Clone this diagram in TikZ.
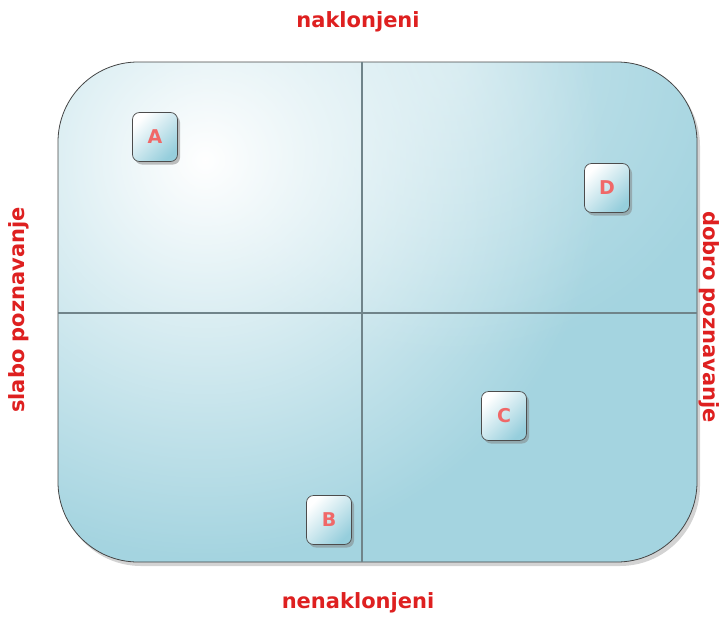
\documentclass[tikz,border=0pt]{standalone}
\usepackage{fontspec}
\setmainfont{DejaVu Sans}
\usetikzlibrary{shadows, fadings, positioning}

\definecolor{paneblue}{RGB}{164,212,224}
\definecolor{boxblue}{RGB}{150,206,220}
\definecolor{labelred}{RGB}{222,32,32}
\definecolor{letterred}{RGB}{240,104,104}
\definecolor{axisgray}{RGB}{112,132,138}

\tikzfading[name=glow, inner color=transparent!0, outer color=transparent!100]

\begin{document}
\begin{tikzpicture}[
    x=1pt, y=-1pt,
    axislabel/.style = {text=labelred, font=\bfseries\fontsize{21}{24}\selectfont},
    itembox/.style = {rectangle, rounded corners=7pt, draw=gray!60!black, line width=0.7pt,
        minimum width=45pt, minimum height=49pt, top color=white, bottom color=boxblue, shading angle=45,
        text=letterred, font=\bfseries\fontsize{19}{21}\selectfont,
        drop shadow={shadow xshift=2.5pt, shadow yshift=-3pt, opacity=0.5}},
    axisline/.style = {draw=axisgray, line width=1.4pt}
]

\useasboundingbox (0,0) rectangle (723,616);

% Pane
\node [rectangle, rounded corners=80pt, minimum width=639pt, minimum height=500pt, fill=paneblue,
    drop shadow={shadow xshift=3pt, shadow yshift=-4pt, opacity=0.35}] (pane) at (377.5,312) {};
\begin{scope}
    \clip [rounded corners=80pt] (58,62) rectangle (697,562);
    \fill [white, opacity=0.4, path fading=glow] (450,60) circle (300pt);
    \fill [white, path fading=glow] (205,160) circle (400pt);
\end{scope}
\draw [gray!55!black, line width=0.8pt, rounded corners=80pt] (58,62) rectangle (697,562);

% Axes
\coordinate (top) at (362,62);
\coordinate (bottom) at (362,562);
\coordinate (left) at (58,313);
\coordinate (right) at (697,313);
\path [axisline] (top) -- (bottom);
\path [axisline] (left) -- (right);

% Labels
\node [axislabel] (favor) at (358,22) {naklonjeni};
\node [axislabel] (against) at (358,603) {nenaklonjeni};
\node [axislabel, rotate=90] (low) at (19,310) {slabo poznavanje};
\node [axislabel, rotate=-90] (high) at (709,317) {dobro poznavanje};

% Items
\node [itembox] (a) at (155,137) {A};
\node [itembox] (d) at (607,188) {D};
\node [itembox] (c) at (504,416) {C};
\node [itembox] (b) at (329,520) {B};

\end{tikzpicture}
\end{document}
